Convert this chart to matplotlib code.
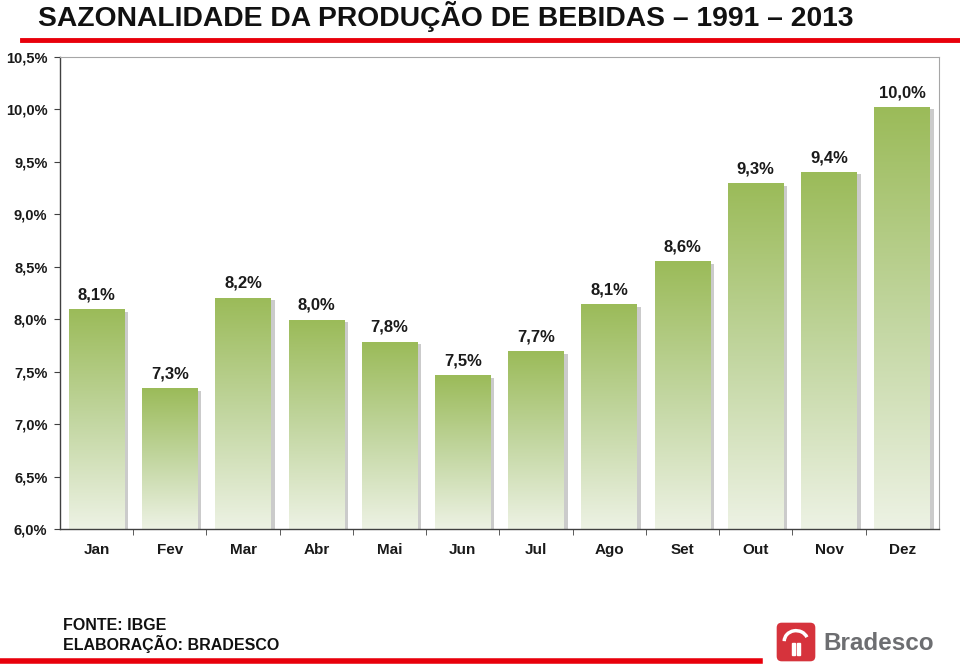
import numpy as np
import matplotlib.pyplot as plt
from matplotlib.patches import FancyBboxPatch, Rectangle, Arc
from matplotlib.lines import Line2D
from matplotlib.colors import LinearSegmentedColormap

# Dados
meses = ['Jan', 'Fev', 'Mar', 'Abr', 'Mai', 'Jun', 'Jul', 'Ago', 'Set', 'Out', 'Nov', 'Dez']
valores = [8.09, 7.34, 8.20, 7.99, 7.78, 7.46, 7.69, 8.14, 8.55, 9.29, 9.40, 10.02]
rotulos = ['8,1%', '7,3%', '8,2%', '8,0%', '7,8%', '7,5%', '7,7%', '8,1%', '8,6%', '9,3%', '9,4%', '10,0%']
yticks = [6.0, 6.5, 7.0, 7.5, 8.0, 8.5, 9.0, 9.5, 10.0, 10.5]

fonte = ['Liberation Sans', 'DejaVu Sans']
plt.rcParams['font.family'] = fonte

fig = plt.figure(figsize=(9.6, 6.66), dpi=100)
ax = fig.add_axes([0.0625, 0.2057, 0.9155, 0.7087])

# Gradiente verde
cmap = LinearSegmentedColormap.from_list('verde', ['#edf2e4', '#c2d6a0', '#9bbb59'])
grad = np.linspace(0, 1, 256).reshape(-1, 1)
largura = 0.76
base = 6.0

for i, v in enumerate(valores):
    x0 = i - largura / 2
    # sombra
    ax.add_patch(Rectangle((x0 + 0.05, base), largura, v - base - 0.02,
                           facecolor='#b5b5b5', edgecolor='none', alpha=0.7, zorder=1))
    ax.imshow(grad, extent=[x0, x0 + largura, base, v], origin='lower', cmap=cmap,
              aspect='auto', zorder=2)
    ax.text(i, v + 0.07, rotulos[i], ha='center', va='bottom', fontsize=12,
            fontweight='bold', color='#1a1a1a', zorder=3)

ax.set_xlim(-0.5, 11.5)
ax.set_ylim(6.0, 10.5)
ax.set_yticks(yticks)
ax.set_yticklabels([('%.1f%%' % t).replace('.', ',') for t in yticks],
                   fontsize=10.5, fontweight='bold', color='#1a1a1a')
ax.set_xticks(range(12))
ax.set_xticklabels(meses, fontsize=11, fontweight='bold', color='#1a1a1a')
ax.set_xticks(np.arange(0.5, 11.5, 1), minor=True)
ax.tick_params(axis='x', which='major', length=0, pad=10)
ax.tick_params(axis='x', which='minor', length=4, direction='out', color='#404040')
ax.tick_params(axis='y', length=4, direction='out', color='#404040', pad=5)

for s in ['top', 'right']:
    ax.spines[s].set_color('#a6a6a6')
for s in ['left', 'bottom']:
    ax.spines[s].set_color('#404040')
    ax.spines[s].set_linewidth(1.0)

# Título e linhas vermelhas
fig.text(38 / 960, 1 - 17 / 666, 'SAZONALIDADE DA PRODUÇÃO DE BEBIDAS – 1991 – 2013',
         ha='left', va='center', fontsize=20.3, fontweight='bold',
         family=['Liberation Sans Narrow', 'Liberation Sans', 'DejaVu Sans'], color='#111111')
fig.add_artist(Line2D([22 / 960, 1], [1 - 40 / 666] * 2, color='#e8000b', linewidth=3.5))
fig.add_artist(Line2D([0, 760 / 960], [1 - 661 / 666] * 2, color='#e8000b', linewidth=4))

# Fonte
fig.text(63 / 960, 1 - 625 / 666, 'FONTE: IBGE', ha='left', va='center',
         fontsize=11.5, fontweight='bold', color='#111111')
fig.text(63 / 960, 1 - 644 / 666, 'ELABORAÇÃO: BRADESCO', ha='left', va='center',
         fontsize=11.5, fontweight='bold', color='#111111')

# Logo Bradesco
logo = fig.add_axes([775 / 960, 1 - 663 / 666, 42 / 960, 42 / 666])
logo.set_xlim(0, 1)
logo.set_ylim(0, 1)
logo.axis('off')
logo.add_patch(FancyBboxPatch((0.04, 0.04), 0.92, 0.92, boxstyle='round,pad=0,rounding_size=0.12',
                              facecolor='#d6333c', edgecolor='none'))
logo.add_patch(Arc((0.5, 0.52), 0.56, 0.5, theta1=20, theta2=180, color='white', linewidth=2.5))
logo.add_patch(Rectangle((0.40, 0.18), 0.07, 0.3, color='white'))
logo.add_patch(Rectangle((0.53, 0.18), 0.07, 0.3, color='white'))
fig.text(823 / 960, 1 - 644 / 666, 'Bradesco', ha='left', va='center', fontsize=17.5,
         fontweight='bold', color='#6d6e71')

fig.savefig('out.png', dpi=100)
